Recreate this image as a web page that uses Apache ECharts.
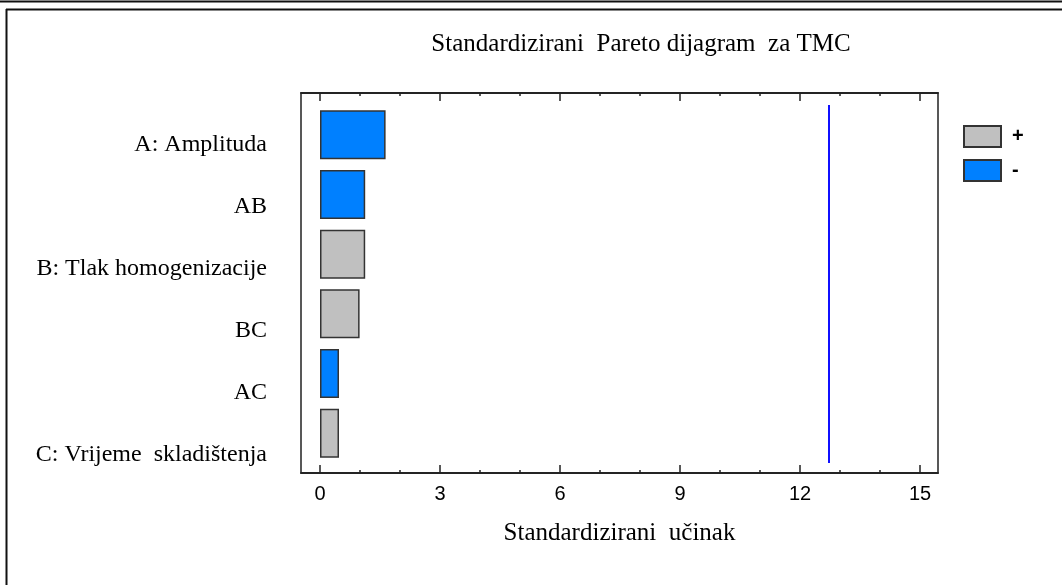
<!DOCTYPE html>
<html>
<head>
<meta charset="utf-8">
<script src="https://cdn.jsdelivr.net/npm/echarts@6/dist/echarts.min.js"></script>
<style>
html,body{margin:0;padding:0;background:#fff;}
#chart{width:1062px;height:585px;}
</style>
</head>
<body>
<div id="chart"></div>
<script>
// ---- data ----
const titleText = 'Standardizirani  Pareto dijagram  za TMC';
const axisName = 'Standardizirani  učinak';
const categories = ['A: Amplituda', 'AB', 'B: Tlak homogenizacije', 'BC', 'AC', 'C: Vrijeme  skladištenja'];
const effects = [1.64, 1.13, 1.13, 0.99, 0.475, 0.475];
const signs = ['-', '-', '+', '+', '-', '+'];
const legendNames = ['+', '-'];
const majorTicks = [0, 3, 6, 9, 12, 15];
const minorTicks = [0, 1, 2, 3, 4, 5, 6, 7, 8, 9, 10, 11, 12, 13, 14, 15];
const criticalValue = 12.706;
const xMin = -0.475, xMax = 15.45;

const plusData = effects.map((v, i) => signs[i] === '+' ? v : null);
const minusData = effects.map((v, i) => signs[i] === '-' ? v : null);

const chart = echarts.init(document.getElementById('chart'), null, {renderer: 'canvas'});
const serif = 'Liberation Serif';
const sans = 'Liberation Sans';
const frameColor = '#222';

const gridL = 301, gridR = 1062 - 938;

function frameAxis(pos, ticks, len, withLabel) {
  return {
    type: 'value', gridIndex: 0, position: pos, min: xMin, max: xMax,
    axisLine: {show: true, lineStyle: {color: frameColor, width: 1.5}},
    axisTick: {show: true, inside: true, length: len, customValues: ticks, lineStyle: {color: frameColor, width: 1.5}},
    axisLabel: withLabel ? {show: true, customValues: majorTicks, fontFamily: sans, fontSize: 20, color: '#000', margin: 11} : {show: false},
    splitLine: {show: false},
    name: withLabel ? axisName : '',
    nameLocation: 'middle', nameGap: 48,
    nameTextStyle: {fontFamily: serif, fontSize: 25, color: '#000'}
  };
}

const option = {
  backgroundColor: '#fff',
  animation: false,
  title: {
    text: titleText, left: 636, top: 27, textAlign: 'center',
    textStyle: {fontFamily: serif, fontSize: 25, fontWeight: 'normal', color: '#000'}
  },
  legend: {
    data: legendNames, orient: 'vertical', left: 963, top: 125, padding: 0,
    itemWidth: 37, itemHeight: 21, itemGap: 11, icon: 'rect',
    textStyle: {fontFamily: sans, fontSize: 20, fontWeight: 'bold', color: '#000', padding: [0, 0, 0, 6]}
  },
  graphic: [
    {type: 'line', shape: {x1: 0, y1: 1.5, x2: 1062, y2: 1.5}, style: {stroke: '#111', lineWidth: 2}},
    {type: 'line', shape: {x1: 6, y1: 9.5, x2: 1062, y2: 9.5}, style: {stroke: '#111', lineWidth: 2}},
    {type: 'line', shape: {x1: 6.5, y1: 9, x2: 6.5, y2: 585}, style: {stroke: '#111', lineWidth: 2}}
  ],
  grid: [
    {left: gridL, right: gridR, top: 93, bottom: 585 - 473, show: true, borderColor: frameColor, borderWidth: 1.5, backgroundColor: 'transparent'},
    {left: gridL, right: gridR, top: 105, bottom: 585 - 463},
    {left: gridL, right: gridR, top: 114, bottom: 585 - 486}
  ],
  xAxis: [
    frameAxis('bottom', majorTicks, 8, true),
    frameAxis('bottom', minorTicks, 3, false),
    frameAxis('top', majorTicks, 8, false),
    frameAxis('top', minorTicks, 3, false),
    {type: 'value', gridIndex: 1, min: xMin, max: xMax, show: false},
    {type: 'value', gridIndex: 2, min: xMin, max: xMax, show: false}
  ],
  yAxis: [
    {type: 'value', gridIndex: 0, show: false},
    {type: 'category', gridIndex: 1, data: categories, inverse: true, show: false},
    {type: 'category', gridIndex: 2, data: categories, inverse: true,
      axisLine: {show: false}, axisTick: {show: false},
      axisLabel: {fontFamily: serif, fontSize: 24, color: '#000', margin: 34}}
  ],
  series: [
    {
      name: '+', type: 'bar', xAxisIndex: 4, yAxisIndex: 1, data: plusData,
      barWidth: 49, barGap: '-100%',
      itemStyle: {color: '#c0c0c0', borderColor: '#333', borderWidth: 1.5}
    },
    {
      name: '-', type: 'bar', xAxisIndex: 4, yAxisIndex: 1, data: minusData,
      barWidth: 49, barGap: '-100%',
      itemStyle: {color: '#0080ff', borderColor: '#333', borderWidth: 1.5},
      markLine: {
        silent: true, symbol: 'none', label: {show: false},
        lineStyle: {color: '#1010ff', width: 2, type: 'solid'},
        data: [{xAxis: criticalValue}]
      }
    }
  ]
};
chart.setOption(option);
</script>
</body>
</html>
